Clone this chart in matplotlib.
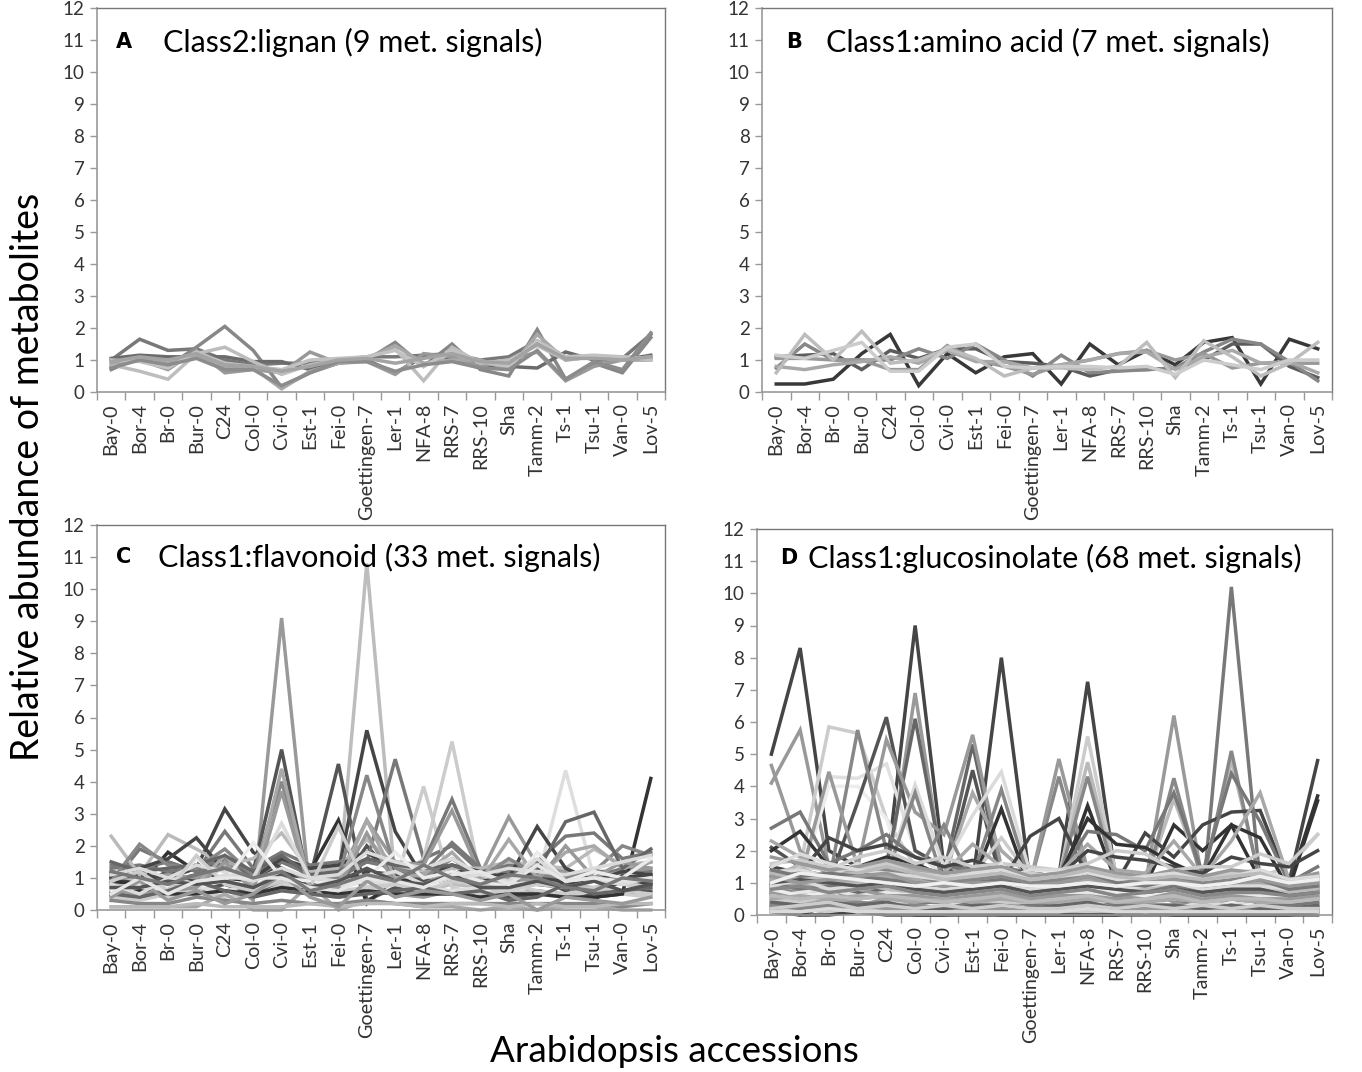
import matplotlib
matplotlib.use("Agg")
import matplotlib.pyplot as plt
import numpy as np

accessions = ["Bay-0", "Bor-4", "Br-0", "Bur-0", "C24", "Col-0", "Cvi-0", "Est-1", "Fei-0",
              "Goettingen-7", "Ler-1", "NFA-8", "RRS-7", "RRS-10", "Sha", "Tamm-2", "Ts-1",
              "Tsu-1", "Van-0", "Lov-5"]
yticks = list(range(0, 13))

# ---------------- Panel A: lignan (9 signals)
lignan = [
    [1.0, 1.65, 1.3, 1.35, 1.0, 0.85, 0.9, 0.9, 1.0, 1.1, 1.1, 1.15, 1.2, 1.0, 1.1, 1.6, 1.1, 1.1, 1.05, 1.8],
    [0.7, 1.1, 0.8, 1.4, 2.05, 1.3, 0.15, 0.6, 0.9, 1.0, 1.55, 0.8, 1.5, 0.7, 0.5, 1.95, 0.4, 0.9, 0.6, 1.7],
    [1.05, 1.15, 1.1, 1.1, 1.1, 0.95, 0.95, 0.7, 1.0, 1.0, 0.6, 1.1, 1.0, 0.75, 0.8, 0.75, 1.25, 1.0, 1.0, 1.15],
    [0.8, 1.0, 0.7, 1.3, 0.6, 0.7, 0.6, 1.25, 0.9, 0.95, 0.55, 1.2, 1.1, 0.8, 1.0, 1.25, 0.35, 0.8, 1.0, 1.0],
    [0.85, 0.65, 0.4, 1.2, 1.4, 0.95, 0.55, 0.85, 1.0, 1.1, 1.35, 0.35, 1.4, 0.9, 1.0, 1.45, 1.0, 1.1, 1.0, 1.1],
    [0.9, 1.05, 0.9, 1.1, 0.8, 0.75, 0.1, 0.65, 0.9, 1.05, 1.45, 0.9, 1.0, 1.0, 0.7, 1.8, 1.0, 1.1, 1.1, 1.05],
    [1.0, 0.95, 0.75, 1.25, 0.9, 0.8, 0.7, 1.0, 1.05, 1.1, 1.3, 0.8, 1.3, 0.95, 0.8, 1.6, 1.1, 1.15, 1.1, 1.0],
    [0.75, 1.0, 0.85, 1.05, 0.7, 0.7, 0.2, 0.6, 0.95, 0.95, 0.65, 0.85, 0.95, 0.75, 0.7, 1.3, 0.4, 0.95, 0.7, 1.85],
    [0.95, 1.1, 1.0, 1.2, 0.85, 0.8, 0.65, 0.8, 1.0, 1.05, 0.9, 1.05, 1.2, 0.95, 0.9, 1.5, 1.05, 1.05, 1.0, 1.1],
]
lignan_grays = [0.47, 0.53, 0.42, 0.6, 0.74, 0.66, 0.76, 0.55, 0.64]

# ---------------- Panel B: amino acid (7 signals)
amino = [
    [0.25, 0.25, 0.4, 1.2, 1.8, 0.2, 1.2, 0.6, 1.1, 1.2, 0.25, 1.5, 0.85, 1.3, 0.85, 1.55, 1.7, 0.25, 1.65, 1.35],
    [1.1, 1.15, 1.2, 0.7, 1.3, 1.05, 1.35, 1.35, 0.95, 0.9, 0.8, 0.5, 0.7, 0.7, 0.75, 1.0, 1.5, 1.5, 0.8, 0.45],
    [0.75, 1.5, 1.0, 1.0, 1.0, 1.35, 1.05, 1.5, 1.0, 0.5, 1.15, 0.6, 0.65, 0.7, 0.75, 1.25, 1.65, 1.5, 0.95, 0.35],
    [1.05, 1.05, 1.0, 1.0, 0.7, 0.7, 1.45, 1.0, 0.8, 0.55, 0.85, 1.0, 1.2, 1.3, 1.0, 1.2, 0.75, 0.9, 0.9, 0.9],
    [0.8, 0.7, 0.85, 0.95, 1.1, 0.9, 1.3, 0.95, 0.95, 0.75, 0.85, 1.0, 1.2, 1.25, 0.7, 1.1, 1.3, 0.9, 0.95, 0.6],
    [0.6, 1.8, 1.0, 1.9, 0.9, 1.0, 1.35, 1.05, 0.5, 0.75, 0.75, 0.7, 0.8, 1.55, 0.45, 1.6, 1.1, 0.5, 0.9, 1.55],
    [1.15, 1.05, 1.3, 1.55, 0.65, 0.65, 1.4, 1.5, 0.8, 0.75, 0.8, 0.8, 0.75, 0.8, 0.55, 1.0, 0.85, 0.7, 1.0, 1.0],
]
amino_grays = [0.22, 0.36, 0.53, 0.6, 0.66, 0.74, 0.8]

# ---------------- Panel C: flavonoid (33 signals)
flavonoid = [
    [0.5, 0.6, 0.4, 0.8, 1.0, 0.3, 9.1, 0.5, 0.4, 0.6, 0.5, 0.4, 0.6, 0.4, 0.5, 0.6, 0.5, 0.4, 0.6, 0.5],
    [0.8, 0.9, 0.6, 1.0, 0.9, 0.7, 1.2, 0.8, 0.7, 10.8, 0.9, 0.6, 0.8, 0.7, 0.6, 0.9, 0.8, 0.7, 0.9, 0.8],
    [1.0, 0.8, 1.2, 0.9, 1.5, 1.0, 1.3, 0.8, 1.2, 5.6, 2.45, 1.0, 1.4, 0.9, 1.2, 1.0, 0.9, 0.3, 1.0, 0.8],
    [1.2, 1.0, 0.9, 1.1, 1.6, 1.2, 5.0, 0.6, 0.7, 2.0, 1.0, 0.9, 1.0, 0.8, 0.7, 1.0, 0.6, 0.3, 1.1, 0.9],
    [0.6, 0.4, 0.5, 0.6, 0.8, 0.5, 0.9, 1.0, 4.55, 0.3, 0.7, 0.5, 0.6, 0.5, 0.4, 0.5, 0.5, 0.4, 0.5, 0.6],
    [0.9, 0.8, 1.8, 1.2, 1.0, 0.9, 1.5, 1.2, 2.8, 0.2, 1.0, 0.8, 1.0, 0.9, 1.0, 0.8, 0.7, 0.5, 0.9, 1.0],
    [1.4, 1.3, 1.5, 1.2, 1.4, 1.0, 1.5, 1.1, 1.0, 1.5, 4.7, 1.6, 2.0, 1.2, 1.4, 1.3, 1.0, 1.2, 1.2, 1.5],
    [0.4, 0.3, 0.5, 0.6, 0.4, 0.5, 0.6, 0.5, 0.4, 0.6, 0.8, 3.85, 0.7, 0.5, 0.6, 0.5, 0.4, 0.6, 0.5, 0.4],
    [0.3, 0.5, 0.4, 0.5, 0.6, 0.4, 0.8, 0.5, 0.6, 0.7, 0.9, 1.6, 5.25, 1.0, 0.8, 0.6, 0.5, 0.7, 0.6, 0.5],
    [1.3, 1.4, 1.2, 1.3, 1.6, 1.1, 1.7, 1.0, 1.2, 1.5, 1.3, 1.5, 3.45, 1.3, 1.2, 1.1, 1.2, 1.0, 1.3, 1.2],
    [1.0, 1.0, 1.1, 1.0, 1.3, 0.9, 1.3, 0.9, 1.0, 2.8, 1.5, 1.4, 3.1, 1.1, 2.9, 1.4, 1.2, 1.0, 1.2, 1.3],
    [0.7, 0.6, 0.8, 0.7, 0.6, 0.8, 0.9, 0.6, 0.7, 0.9, 0.8, 0.7, 0.6, 0.7, 0.8, 0.9, 4.35, 1.0, 0.8, 0.7],
    [0.5, 0.6, 0.5, 0.5, 0.6, 0.5, 0.7, 0.6, 0.5, 0.6, 0.5, 0.5, 0.5, 0.4, 0.5, 0.5, 0.4, 0.4, 0.5, 4.1],
    [1.0, 1.1, 1.0, 1.3, 3.15, 1.8, 1.3, 0.7, 0.9, 1.2, 1.1, 1.0, 1.2, 0.9, 1.0, 1.2, 0.8, 0.9, 1.0, 1.1],
    [0.8, 1.9, 1.5, 1.2, 2.45, 1.3, 1.8, 1.4, 1.5, 1.8, 1.3, 1.2, 2.1, 1.3, 1.2, 1.5, 2.3, 2.4, 1.6, 1.8],
    [2.3, 1.1, 2.35, 1.9, 1.4, 1.6, 2.4, 1.2, 1.3, 2.2, 1.4, 1.2, 1.3, 1.3, 1.5, 1.4, 1.3, 1.9, 1.4, 1.5],
    [1.1, 1.3, 1.6, 2.25, 1.2, 1.0, 1.6, 1.3, 1.4, 1.8, 1.2, 1.1, 1.4, 1.2, 1.0, 2.6, 1.3, 0.9, 1.2, 1.1],
    [0.9, 2.05, 1.4, 1.3, 1.9, 1.1, 4.0, 0.9, 1.0, 4.2, 1.3, 1.0, 1.6, 1.0, 1.6, 1.1, 1.0, 1.2, 2.0, 1.7],
    [0.7, 0.8, 0.7, 0.8, 1.7, 0.7, 4.4, 0.7, 0.8, 2.8, 1.0, 1.1, 1.8, 0.9, 2.2, 1.0, 1.8, 2.0, 1.3, 1.5],
    [1.5, 1.2, 1.3, 1.4, 1.7, 1.2, 1.7, 1.1, 1.2, 1.6, 1.4, 1.3, 1.4, 1.1, 1.3, 1.2, 2.75, 3.05, 1.3, 1.9],
    [0.6, 0.5, 0.6, 0.7, 1.5, 0.6, 3.7, 0.6, 0.7, 2.4, 0.8, 0.8, 1.2, 0.8, 1.0, 0.9, 2.0, 1.0, 1.5, 1.3],
    [1.1, 1.3, 1.0, 1.4, 1.2, 1.0, 2.7, 1.0, 1.1, 1.8, 1.5, 1.3, 1.6, 1.1, 1.3, 1.2, 1.1, 1.3, 1.5, 1.7],
    [0.6, 0.8, 0.7, 1.6, 0.9, 2.1, 1.0, 0.9, 0.8, 1.0, 1.8, 1.0, 1.2, 0.9, 0.7, 1.8, 0.9, 1.2, 1.0, 1.6],
    [0.9, 1.2, 0.6, 1.7, 0.8, 0.6, 0.9, 0.7, 2.6, 0.7, 0.8, 0.6, 0.9, 0.8, 0.6, 0.8, 0.7, 0.9, 0.8, 0.7],
    [0.1, 0.1, 0.1, 0.1, 0.5, 0.0, 0.0, 0.8, 0.0, 0.3, 0.2, 0.1, 0.1, 0.0, 0.1, 0.0, 0.1, 0.1, 0.0, 0.0],
    [0.3, 0.2, 0.2, 0.4, 0.3, 0.2, 0.3, 0.2, 0.2, 0.3, 0.2, 0.2, 0.2, 0.2, 0.2, 0.2, 0.2, 0.2, 0.1, 0.2],
    [0.5, 0.4, 0.6, 0.9, 0.6, 0.4, 0.6, 0.5, 0.4, 0.5, 0.6, 0.7, 0.5, 0.6, 0.3, 0.4, 0.8, 0.5, 0.6, 0.7],
    [0.1, 0.1, 0.1, 0.2, 0.1, 0.1, 0.1, 0.2, 0.1, 0.2, 0.2, 0.1, 0.2, 0.2, 0.1, 0.2, 0.1, 0.1, 0.2, 0.2],
    [0.4, 0.9, 0.3, 0.6, 0.2, 0.5, 1.1, 0.4, 0.1, 0.9, 0.4, 0.6, 0.5, 0.3, 0.5, 0.0, 0.4, 0.3, 0.2, 0.4],
    [0.8, 0.5, 1.0, 0.8, 1.1, 0.9, 1.3, 1.0, 0.9, 1.0, 1.2, 0.8, 1.0, 1.1, 0.9, 1.6, 0.9, 1.0, 0.8, 1.0],
    [0.7, 0.7, 0.9, 0.8, 0.9, 0.7, 1.1, 0.7, 0.9, 1.3, 0.9, 0.8, 1.1, 0.7, 0.7, 0.9, 0.7, 0.9, 0.6, 0.8],
    [0.5, 1.0, 0.5, 0.9, 1.0, 1.0, 1.0, 0.7, 0.6, 1.0, 0.9, 0.7, 1.1, 1.2, 0.8, 1.4, 0.9, 1.0, 0.9, 1.0],
    [1.2, 1.0, 0.8, 1.1, 1.3, 1.0, 1.2, 0.6, 0.8, 1.1, 0.9, 1.4, 1.0, 0.8, 1.1, 1.0, 0.7, 0.6, 1.0, 0.9],
]
flavonoid_grays = [0.6, 0.74, 0.27, 0.33, 0.33, 0.2, 0.47, 0.8, 0.8, 0.47, 0.6, 0.87, 0.2, 0.27, 0.47,
                   0.73, 0.27, 0.53, 0.66, 0.4, 0.6, 0.86, 0.92, 0.8, 0.66, 0.53, 0.4, 0.73, 0.6, 0.86,
                   0.33, 0.9, 0.47]

# ---------------- Panel D: glucosinolate (68 signals)
glucosinolate = [
    [5.0, 8.3, 2.0, 1.5, 1.3, 9.0, 1.5, 1.0, 8.0, 1.0, 1.2, 7.25, 1.0, 1.0, 1.2, 1.0, 1.0, 1.0, 0.5, 0.8],
    [1.0, 1.0, 0.8, 1.0, 1.2, 1.3, 1.1, 1.0, 1.2, 0.9, 1.0, 1.1, 1.0, 0.9, 1.2, 0.5, 10.2, 1.0, 0.8, 1.0],
    [4.1, 5.75, 1.5, 1.2, 1.0, 6.9, 1.2, 1.0, 1.5, 0.9, 1.0, 1.2, 1.0, 0.9, 6.2, 1.0, 1.2, 1.0, 0.8, 1.0],
    [1.2, 1.5, 5.85, 5.65, 3.0, 1.5, 0.9, 0.8, 1.0, 0.9, 0.8, 0.9, 1.0, 0.8, 0.9, 0.8, 1.0, 0.9, 0.8, 0.9],
    [1.0, 1.2, 4.3, 4.25, 4.7, 2.0, 1.2, 0.8, 1.0, 0.8, 0.7, 0.8, 0.8, 0.7, 0.8, 0.7, 0.9, 0.8, 0.7, 0.8],
    [0.8, 1.0, 4.0, 4.0, 3.0, 0.3, 0.4, 0.3, 0.5, 0.2, 0.3, 0.4, 0.3, 0.2, 0.3, 0.2, 0.4, 0.3, 0.2, 0.3],
    [2.1, 1.5, 1.0, 3.5, 6.15, 2.0, 1.5, 1.5, 1.2, 1.0, 1.0, 1.2, 1.0, 0.9, 1.0, 0.9, 1.0, 0.9, 0.8, 1.0],
    [1.5, 1.2, 1.0, 5.75, 2.0, 1.5, 1.3, 1.2, 1.0, 0.9, 1.0, 1.0, 0.9, 0.8, 1.0, 0.9, 1.0, 0.9, 0.8, 0.9],
    [1.3, 1.4, 1.2, 1.0, 1.5, 6.1, 1.3, 5.3, 1.2, 1.0, 1.1, 1.2, 1.0, 0.9, 1.1, 1.0, 1.2, 1.0, 0.9, 1.0],
    [1.2, 1.1, 4.45, 1.5, 5.45, 3.2, 2.5, 5.6, 1.5, 1.2, 1.0, 1.3, 1.2, 1.0, 1.1, 1.0, 1.3, 1.1, 0.9, 1.1],
    [0.8, 0.9, 1.0, 1.2, 1.3, 1.5, 1.0, 4.5, 1.0, 0.8, 0.9, 1.0, 0.8, 0.7, 0.9, 0.8, 0.9, 0.8, 0.7, 0.8],
    [1.0, 1.1, 1.2, 1.3, 1.5, 1.6, 1.2, 3.8, 2.0, 1.2, 1.1, 1.2, 1.0, 0.9, 1.0, 0.9, 1.1, 1.0, 0.9, 1.0],
    [0.9, 1.0, 1.1, 1.2, 1.3, 4.05, 1.5, 3.1, 4.45, 1.3, 1.2, 1.3, 1.1, 1.0, 1.1, 1.0, 1.2, 1.1, 1.0, 1.1],
    [0.7, 0.8, 0.9, 1.0, 1.2, 3.8, 1.0, 1.2, 3.9, 1.0, 4.3, 1.1, 0.9, 0.8, 0.9, 0.8, 1.0, 0.9, 0.8, 0.9],
    [0.6, 0.7, 0.8, 0.9, 1.0, 1.0, 0.9, 1.0, 3.3, 0.8, 0.9, 3.4, 1.0, 0.9, 2.8, 2.0, 2.8, 1.1, 0.9, 3.7],
    [4.65, 2.0, 1.2, 1.0, 1.3, 1.5, 1.2, 1.1, 1.3, 1.0, 4.85, 1.4, 1.2, 1.0, 1.3, 1.0, 1.2, 1.1, 1.0, 1.2],
    [1.0, 1.1, 1.0, 1.1, 1.2, 1.3, 1.1, 1.2, 2.4, 1.2, 1.1, 5.55, 1.2, 1.1, 1.2, 1.1, 1.3, 1.2, 1.5, 2.5],
    [1.1, 1.0, 1.2, 1.1, 1.3, 1.4, 1.2, 1.1, 1.3, 1.1, 1.2, 4.75, 1.1, 1.0, 3.6, 1.2, 4.8, 1.1, 1.0, 1.1],
    [0.9, 1.0, 0.9, 1.0, 1.1, 1.2, 2.8, 1.0, 1.1, 1.0, 1.1, 4.3, 1.0, 0.9, 4.25, 1.0, 5.1, 1.0, 0.9, 1.0],
    [0.8, 0.9, 0.8, 0.9, 1.0, 1.0, 1.1, 1.2, 1.0, 2.45, 3.0, 1.2, 1.0, 2.55, 1.8, 2.8, 3.2, 3.25, 1.0, 4.8],
    [2.7, 3.2, 1.6, 2.0, 2.5, 1.8, 1.5, 1.4, 1.5, 1.3, 1.2, 2.6, 2.5, 2.0, 3.8, 1.3, 4.4, 2.9, 1.0, 1.5],
    [2.0, 2.6, 1.5, 1.5, 1.8, 1.6, 1.2, 1.2, 1.3, 1.1, 1.2, 3.0, 2.2, 2.1, 1.6, 1.2, 2.8, 2.4, 0.8, 3.55],
    [2.3, 1.8, 1.4, 1.3, 1.6, 1.4, 1.3, 2.2, 1.5, 1.2, 1.3, 2.2, 1.4, 1.3, 2.3, 1.2, 2.3, 3.8, 1.1, 1.2],
    [1.5, 1.3, 2.4, 2.0, 2.2, 1.8, 1.5, 1.7, 1.4, 1.3, 1.2, 2.0, 1.8, 1.7, 1.5, 1.3, 1.8, 1.6, 1.5, 2.0],
    [1.3, 1.5, 1.4, 1.8, 2.0, 1.6, 1.8, 1.5, 1.6, 1.5, 1.4, 1.6, 2.0, 1.9, 1.4, 1.5, 1.5, 1.9, 1.6, 2.5],
    [0.7, 0.2, 1.2, 0.9, 1.0, 0.8, 0.6, 0.4, 1.6, 0.1, 0.1, 0.8, 0.2, 0.2, 1.3, 0.1, 0.7, 0.3, 0.1, 0.2],
    [1.1, 1.6, 0.7, 0.9, 1.3, 0.6, 0.8, 0.5, 1.2, 0.8, 0.5, 1.3, 0.6, 0.9, 1.1, 0.5, 1.2, 0.9, 0.7, 0.8],
    [0.4, 0.5, 0.9, 0.3, 0.5, 0.4, 0.8, 0.4, 0.3, 0.7, 0.4, 0.5, 0.3, 0.8, 0.4, 0.3, 0.9, 0.3, 0.3, 0.4],
    [0.2, 0.2, 0.1, 0.2, 0.3, 0.1, 0.1, 0.2, 0.1, 0.1, 0.1, 0.2, 0.1, 0.1, 0.1, 0.1, 0.1, 0.1, 0.1, 0.2],
    [1.3, 1.4, 1.2, 1.6, 1.2, 1.1, 0.7, 1.2, 1.1, 1.4, 1.4, 1.2, 0.6, 1.0, 1.2, 1.1, 1.2, 1.3, 1.0, 1.1],
    [0.6, 1.1, 0.5, 0.6, 0.8, 0.3, 0.5, 0.6, 1.0, 0.5, 0.6, 0.9, 0.6, 0.5, 0.6, 0.5, 0.6, 0.5, 0.5, 0.6],
    [1.6, 1.7, 1.5, 1.4, 1.6, 1.3, 1.2, 1.3, 1.2, 1.3, 1.2, 1.4, 1.3, 1.2, 1.3, 1.1, 1.3, 1.4, 1.1, 1.2],
    [0.3, 0.0, 0.3, 0.2, 0.2, 0.0, 0.0, 0.1, 0.0, 0.0, 0.0, 0.0, 0.0, 0.0, 0.0, 0.0, 0.0, 0.0, 0.0, 0.0],
    [0.9, 0.8, 0.4, 0.8, 0.9, 0.7, 0.3, 0.7, 0.8, 0.6, 0.3, 0.9, 0.7, 0.6, 0.8, 0.7, 0.8, 0.7, 0.6, 0.7],
    [1.0, 0.9, 1.1, 1.0, 1.1, 1.0, 0.9, 1.0, 1.2, 1.0, 1.0, 1.1, 1.0, 1.1, 1.0, 0.9, 1.0, 1.1, 1.0, 1.0],
    [0.5, 0.3, 0.4, 0.5, 0.6, 0.4, 0.4, 0.3, 0.5, 0.3, 0.4, 0.6, 0.3, 0.4, 0.5, 0.3, 0.5, 0.4, 0.3, 0.4],
    [0.2, 0.1, 0.2, 0.1, 0.1, 0.1, 0.1, 0.1, 0.1, 0.1, 0.1, 0.1, 0.1, 0.1, 0.1, 0.1, 0.1, 0.1, 0.1, 0.1],
    [1.8, 1.6, 1.4, 1.5, 1.7, 1.5, 1.3, 1.4, 1.5, 1.2, 1.3, 1.5, 1.3, 1.2, 1.4, 1.2, 1.4, 1.3, 1.1, 1.3],
    [0.4, 0.6, 0.3, 0.7, 0.5, 0.2, 0.3, 0.5, 0.2, 0.6, 0.4, 0.3, 0.5, 0.6, 0.2, 0.4, 0.3, 0.5, 0.4, 0.6],
    [0.9, 1.0, 0.8, 0.7, 0.8, 0.6, 0.7, 0.6, 0.7, 0.6, 0.7, 0.8, 0.6, 0.7, 0.8, 0.6, 0.7, 0.6, 0.5, 0.6],
    [0.1, 0.2, 0.1, 0.2, 0.2, 0.1, 0.2, 0.1, 0.2, 0.1, 0.2, 0.1, 0.2, 0.1, 0.2, 0.1, 0.2, 0.1, 0.2, 0.1],
    [1.2, 1.3, 1.1, 1.2, 1.4, 1.2, 1.0, 1.1, 1.2, 1.0, 1.1, 1.3, 1.0, 1.1, 1.2, 1.0, 1.1, 1.2, 0.9, 1.0],
    [0.3, 0.4, 0.5, 0.4, 0.3, 0.3, 0.2, 0.3, 0.4, 0.2, 0.3, 0.4, 0.2, 0.3, 0.3, 0.2, 0.3, 0.2, 0.2, 0.3],
    [1.4, 1.2, 1.3, 1.1, 1.0, 0.9, 1.0, 0.8, 1.0, 0.9, 0.8, 0.9, 1.0, 0.8, 1.0, 0.9, 1.0, 1.2, 0.9, 1.0],
    [0.7, 0.5, 0.6, 0.5, 0.7, 0.5, 0.4, 0.5, 0.6, 0.4, 0.5, 0.7, 0.5, 0.4, 0.6, 0.5, 0.5, 0.4, 0.4, 0.5],
    [0.8, 1.0, 0.9, 1.0, 0.8, 0.7, 0.8, 0.9, 0.7, 0.8, 0.9, 0.8, 0.7, 0.8, 0.9, 0.8, 0.9, 0.8, 0.7, 0.8],
    [0.2, 0.3, 0.2, 0.3, 0.2, 0.2, 0.1, 0.2, 0.2, 0.1, 0.2, 0.3, 0.1, 0.2, 0.2, 0.1, 0.2, 0.1, 0.1, 0.2],
    [1.5, 1.9, 1.6, 1.4, 1.3, 1.2, 1.1, 1.3, 1.4, 1.1, 1.2, 1.3, 1.1, 1.2, 1.3, 1.1, 1.2, 1.4, 1.1, 1.2],
    [1.0, 0.8, 0.9, 0.8, 1.0, 0.8, 0.7, 0.8, 0.9, 0.7, 0.8, 1.0, 0.8, 0.7, 0.9, 0.7, 0.8, 0.8, 0.6, 0.7],
    [0.5, 0.4, 0.6, 0.5, 0.6, 0.5, 0.4, 0.5, 0.4, 0.4, 0.5, 0.5, 0.4, 0.5, 0.5, 0.4, 0.5, 0.4, 0.4, 0.5],
    [0.1, 0.0, 0.0, 0.1, 0.0, 0.0, 0.0, 0.0, 0.0, 0.0, 0.0, 0.0, 0.0, 0.1, 0.0, 0.0, 0.0, 0.0, 0.0, 0.1],
    [1.1, 0.9, 1.0, 1.1, 1.2, 1.1, 0.9, 1.0, 1.1, 0.9, 1.0, 1.1, 0.9, 1.0, 1.1, 0.9, 1.0, 1.0, 0.8, 0.9],
    [0.6, 0.7, 0.8, 0.6, 0.7, 0.6, 0.5, 0.6, 0.8, 0.5, 0.6, 0.7, 0.5, 0.6, 0.7, 0.5, 0.6, 0.6, 0.5, 0.6],
    [0.3, 0.2, 0.3, 0.4, 0.3, 0.3, 0.2, 0.3, 0.3, 0.2, 0.3, 0.3, 0.2, 0.3, 0.3, 0.2, 0.3, 0.2, 0.2, 0.3],
    [1.3, 1.1, 1.2, 1.3, 1.5, 1.3, 1.1, 1.2, 1.3, 1.1, 1.2, 1.4, 1.2, 1.1, 1.2, 1.1, 1.2, 1.3, 1.0, 1.1],
    [0.4, 0.3, 0.4, 0.3, 0.4, 0.2, 0.2, 0.3, 0.3, 0.2, 0.3, 0.4, 0.2, 0.3, 0.3, 0.2, 0.3, 0.2, 0.2, 0.3],
    [0.9, 1.1, 0.8, 0.9, 1.0, 0.9, 0.8, 0.9, 1.0, 0.8, 0.9, 1.0, 0.8, 0.9, 1.0, 0.8, 0.9, 0.9, 0.8, 0.9],
    [0.7, 0.6, 0.7, 0.8, 0.6, 0.6, 0.5, 0.6, 0.7, 0.5, 0.6, 0.6, 0.5, 0.6, 0.7, 0.5, 0.6, 0.5, 0.5, 0.6],
    [0.2, 0.3, 0.4, 0.2, 0.3, 0.2, 0.3, 0.2, 0.3, 0.2, 0.2, 0.3, 0.2, 0.3, 0.2, 0.3, 0.2, 0.3, 0.2, 0.2],
    [1.4, 1.2, 1.3, 1.2, 1.1, 1.0, 0.9, 1.0, 1.1, 0.9, 1.0, 1.2, 1.0, 0.9, 1.1, 0.9, 1.0, 1.1, 0.8, 0.9],
    [0.8, 0.6, 0.7, 0.8, 0.9, 0.7, 0.6, 0.7, 0.8, 0.7, 0.7, 0.8, 0.7, 0.6, 0.8, 0.6, 0.8, 0.7, 0.6, 0.7],
    [0.5, 0.6, 0.5, 0.6, 0.5, 0.4, 0.5, 0.4, 0.5, 0.4, 0.4, 0.5, 0.4, 0.4, 0.5, 0.4, 0.5, 0.4, 0.4, 0.5],
    [1.0, 1.1, 1.0, 0.9, 1.0, 0.8, 0.7, 0.8, 0.9, 0.7, 0.8, 0.9, 0.8, 0.7, 0.8, 0.7, 0.8, 0.8, 0.6, 0.7],
    [0.1, 0.1, 0.2, 0.1, 0.1, 0.1, 0.1, 0.1, 0.1, 0.1, 0.1, 0.2, 0.1, 0.1, 0.1, 0.1, 0.1, 0.1, 0.1, 0.1],
    [1.2, 1.0, 1.1, 1.2, 1.3, 1.0, 0.9, 1.0, 1.0, 0.9, 1.0, 1.2, 0.9, 1.0, 1.1, 0.9, 1.0, 1.1, 0.9, 1.0],
    [0.6, 0.5, 0.6, 0.5, 0.6, 0.5, 0.4, 0.5, 0.6, 0.4, 0.5, 0.6, 0.4, 0.5, 0.6, 0.4, 0.5, 0.5, 0.4, 0.5],
    [0.8, 0.9, 0.7, 0.8, 0.9, 0.7, 0.6, 0.7, 0.8, 0.6, 0.7, 0.8, 0.6, 0.7, 0.8, 0.6, 0.7, 0.7, 0.6, 0.7],
    [1.0, 1.3, 1.2, 1.1, 1.0, 0.9, 1.0, 0.9, 1.0, 0.9, 0.9, 1.0, 0.9, 1.0, 1.0, 0.9, 1.0, 1.2, 1.0, 1.1],
]
glucosinolate_grays = [0.27, 0.47, 0.6, 0.8, 0.88, 0.93, 0.33, 0.53, 0.4, 0.6, 0.33, 0.66, 0.86, 0.53,
                       0.2, 0.6, 0.8, 0.73, 0.53, 0.27, 0.47, 0.2, 0.66, 0.27, 0.8, 0.91, 0.73, 0.6,
                       0.4, 0.86, 0.53, 0.8, 0.33, 0.66, 0.88, 0.47, 0.73, 0.6, 0.86, 0.4, 0.8, 0.53,
                       0.66, 0.93, 0.33, 0.73, 0.6, 0.86, 0.47, 0.8, 0.27, 0.66, 0.91, 0.53, 0.73,
                       0.4, 0.86, 0.6, 0.8, 0.47, 0.93, 0.66, 0.33, 0.86, 0.6, 0.73, 0.53, 0.94]

panels = [
    ("A", "Class2:lignan (9 met. signals)", lignan, lignan_grays),
    ("B", "Class1:amino acid (7 met. signals)", amino, amino_grays),
    ("C", "Class1:flavonoid (33 met. signals)", flavonoid, flavonoid_grays),
    ("D", "Class1:glucosinolate (68 met. signals)", glucosinolate, glucosinolate_grays),
]

W, H = 1362, 1072
# axes rectangles in pixels: left, right, top(y of 12), bottom(y of 0)
rects = {
    "A": (97, 665, 8, 392),
    "B": (762, 1332, 8, 392),
    "C": (97, 665, 525, 910),
    "D": (757, 1332, 529, 915),
}
# letter x, title x, y (axes fraction)
text_pos = {
    "A": (0.034, 0.116, 0.911),
    "B": (0.042, 0.112, 0.911),
    "C": (0.034, 0.107, 0.917),
    "D": (0.040, 0.089, 0.925),
}

FONT = "Lato"
plt.rcParams["font.family"] = [FONT, "DejaVu Sans"]

fig = plt.figure(figsize=(W / 100, H / 100), dpi=100)
fig.patch.set_facecolor("white")

x = np.arange(len(accessions))
for letter, title, series, grays in panels:
    l, r, t, b = rects[letter]
    ax = fig.add_axes([l / W, 1 - b / H, (r - l) / W, (b - t) / H])
    for vals, g in zip(series, grays):
        ax.plot(x, vals, color=str(g), lw=2.5, solid_joinstyle="miter", clip_on=False)
    ax.set_xlim(-0.5, len(accessions) - 0.5)
    ax.set_ylim(0, 12)
    ax.set_yticks(yticks)
    ax.set_yticklabels([str(v) for v in yticks], fontsize=13.5, color="#333333")
    ax.set_xticks(x)
    ax.set_xticklabels(accessions, rotation=90, fontsize=14.2, color="#333333")
    ax.set_xticks(np.arange(-0.5, len(accessions)), minor=True)
    ax.tick_params(axis="x", which="major", length=0, pad=8)
    ax.tick_params(axis="x", which="minor", length=6, width=1, color="#999999")
    ax.tick_params(axis="y", which="major", length=5, width=1, color="#999999", pad=4)
    for side in ["left", "bottom"]:
        ax.spines[side].set_color("#999999")
        ax.spines[side].set_linewidth(1.2)
    for side in ["top", "right"]:
        ax.spines[side].set_color("#777777")
        ax.spines[side].set_linewidth(1.0)
    lx, tx, ty = text_pos[letter]
    ax.text(lx, ty, letter, transform=ax.transAxes, fontsize=15, fontweight="bold",
            family=["DejaVu Sans"], va="center", ha="left", color="black")
    ax.text(tx, ty, title, transform=ax.transAxes, fontsize=22, va="center", ha="left",
            color="black")

fig.text(28 / W, 1 - 477 / H, "Relative abundance of metabolites", rotation=90,
         fontsize=27, ha="center", va="center")
fig.text(674 / W, 1 - 1052 / H, "Arabidopsis accessions", fontsize=26.5, ha="center",
         va="center")

fig.savefig("out.png", dpi=100)
